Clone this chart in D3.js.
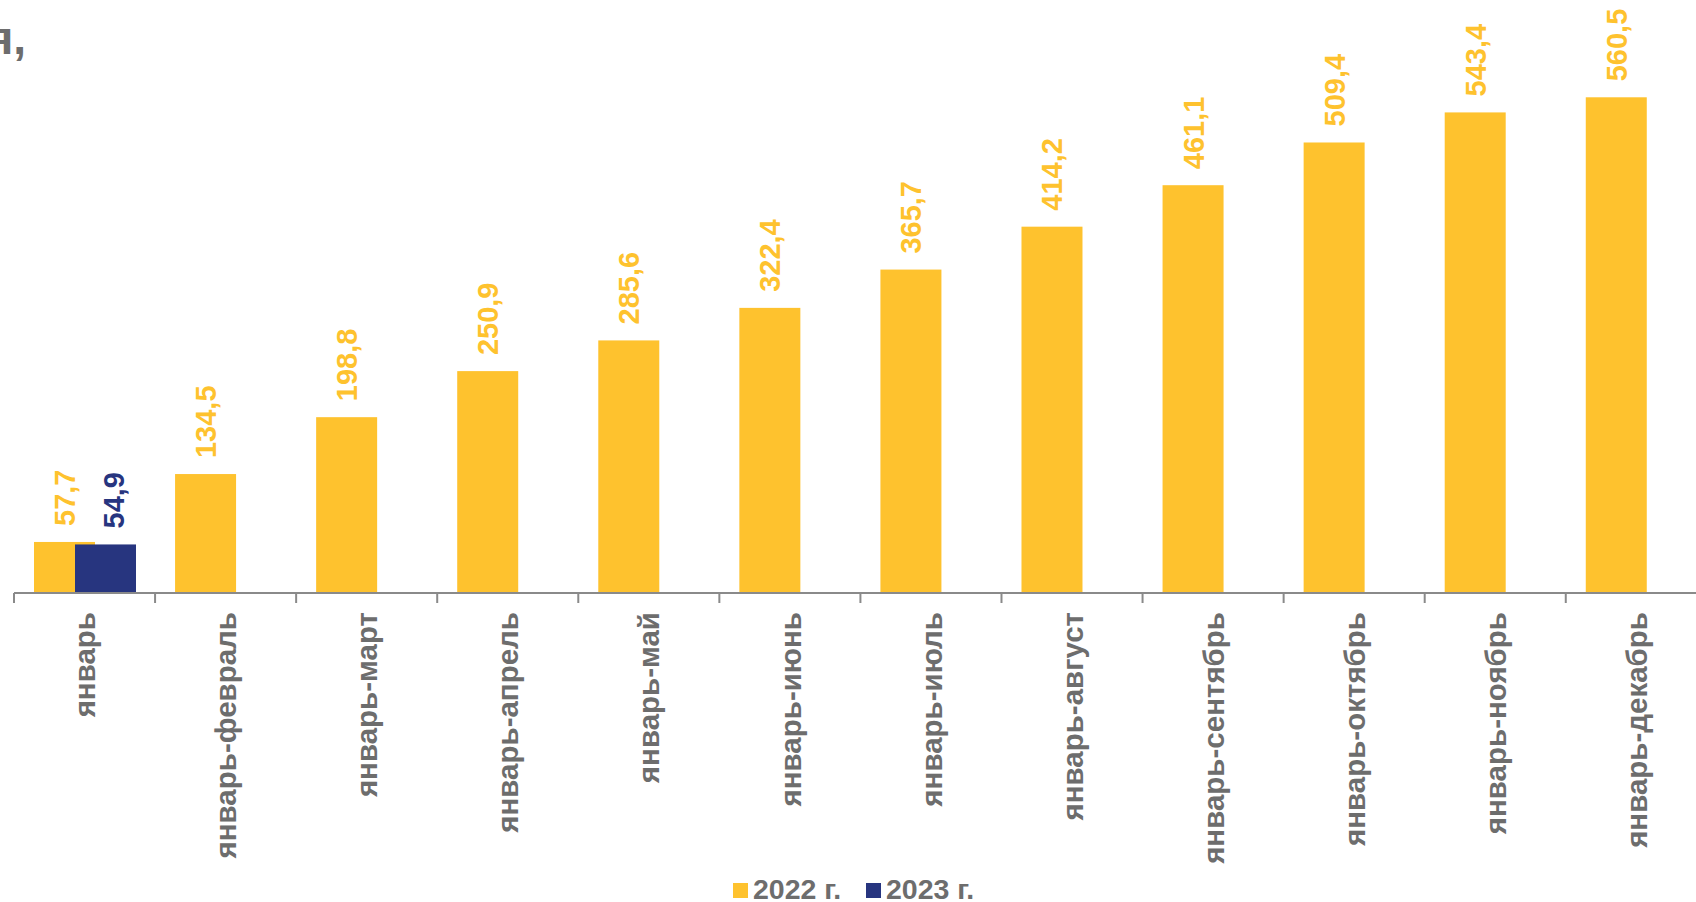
<!DOCTYPE html>
<html>
<head>
<meta charset="utf-8">
<script src="https://cdn.jsdelivr.net/npm/d3@7"></script>
<style>
  html, body { margin: 0; padding: 0; background: #fff; overflow: hidden; }
  text { font-family: "Liberation Sans", Arial, sans-serif; font-weight: bold; }
</style>
</head>
<body>
<div id="wrapper"></div>
<script>
// данные
const categories = ["январь", "январь-февраль", "январь-март", "январь-апрель", "январь-май",
  "январь-июнь", "январь-июль", "январь-август", "январь-сентябрь", "январь-октябрь",
  "январь-ноябрь", "январь-декабрь"];
const seriesNames = ["2022 г.", "2023 г."];
const values2022 = [57.7, 134.5, 198.8, 250.9, 285.6, 322.4, 365.7, 414.2, 461.1, 509.4, 543.4, 560.5];
const values2023 = [54.9];
const colors = ["#FEC22E", "#27357F"];

function drawBars() {
  const dimensions = {
    width: 1696,
    height: 902,
    axisY: 593,
    left: 14,
    band: 141.07,
  };

  const svg = d3.select("#wrapper")
    .append("svg")
    .attr("width", dimensions.width)
    .attr("height", dimensions.height);

  // заголовок (виден только хвост)
  svg.append("text")
    .attr("x", 26)
    .attr("y", 54)
    .attr("text-anchor", "end")
    .attr("fill", "#6d6d6d")
    .style("font-size", "46px")
    .text("я,");

  const xScale = d3.scaleBand()
    .domain(categories)
    .range([dimensions.left, dimensions.left + dimensions.band * categories.length])
    .padding(0);

  const yScale = d3.scaleLinear()
    .domain([0, 600])
    .range([dimensions.axisY, dimensions.axisY - 600 * 0.8844]);

  const bw = xScale.bandwidth();
  const barW = bw * 61 / 141.07;
  const step = bw * 41 / 141.07;
  const offset = bw * 20 / 141.07;

  const series = [values2022, values2023];

  series.forEach((vals, si) => {
    const data = vals.map((v, i) => ({ cat: categories[i], v }));
    const g = svg.append("g");
    g.selectAll("rect")
      .data(data)
      .enter().append("rect")
      .attr("x", d => xScale(d.cat) + offset + si * step)
      .attr("y", d => yScale(d.v))
      .attr("width", barW)
      .attr("height", d => yScale(0) - yScale(d.v))
      .attr("fill", colors[si]);

    g.selectAll("text")
      .data(data)
      .enter().append("text")
      .attr("transform", d => {
        const cx = xScale(d.cat) + offset + si * step + barW / 2 + (si === 1 ? 8 : 0);
        const cy = yScale(d.v) - 16;
        return `translate(${cx},${cy}) rotate(-90)`;
      })
      .attr("dy", "0.36em")
      .attr("text-anchor", "start")
      .attr("fill", colors[si])
      .style("font-size", "29px")
      .text(d => d3.format(".1f")(d.v).replace(".", ","));
  });

  // ось X
  const axis = svg.append("g");
  axis.append("line")
    .attr("x1", dimensions.left)
    .attr("x2", dimensions.width)
    .attr("y1", dimensions.axisY)
    .attr("y2", dimensions.axisY)
    .attr("stroke", "#8a8a8a")
    .attr("stroke-width", 2);

  axis.selectAll("line.tick")
    .data(categories)
    .enter().append("line")
    .attr("class", "tick")
    .attr("x1", d => xScale(d))
    .attr("x2", d => xScale(d))
    .attr("y1", dimensions.axisY)
    .attr("y2", dimensions.axisY + 10)
    .attr("stroke", "#8a8a8a")
    .attr("stroke-width", 2);

  axis.selectAll("text")
    .data(categories)
    .enter().append("text")
    .attr("transform", d => `translate(${xScale(d) + bw / 2},612) rotate(-90)`)
    .attr("dy", "0.36em")
    .attr("text-anchor", "end")
    .attr("fill", "#6d6d6d")
    .style("font-size", "29.5px")
    .text(d => d);

  // легенда
  const legend = svg.append("g");
  const legendX = [733, 866];
  seriesNames.forEach((name, i) => {
    legend.append("rect")
      .attr("x", legendX[i])
      .attr("y", 883)
      .attr("width", 15)
      .attr("height", 15)
      .attr("fill", colors[i]);
    legend.append("text")
      .attr("x", legendX[i] + 20)
      .attr("y", 899)
      .attr("fill", "#6d6d6d")
      .style("font-size", "28.5px")
      .text(name);
  });
}

drawBars();
</script>
</body>
</html>
